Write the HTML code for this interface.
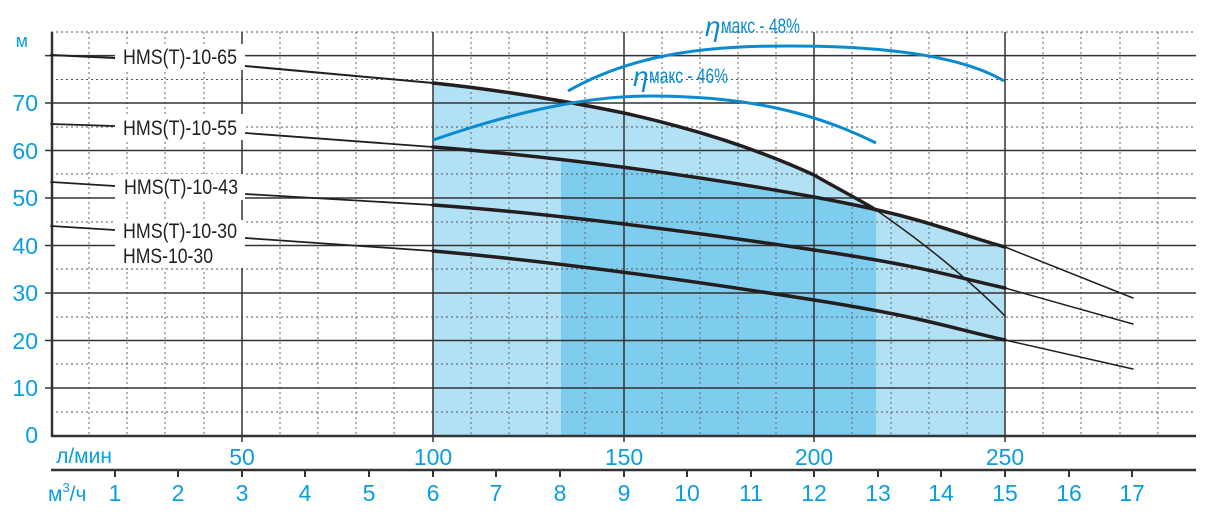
<!DOCTYPE html>
<html><head><meta charset="utf-8"><style>
html,body{margin:0;padding:0;background:#fff}
svg{display:block}
text{font-family:"Liberation Sans",sans-serif}
</style></head><body>
<svg width="1224" height="516" viewBox="0 0 1224 516" xmlns="http://www.w3.org/2000/svg">
<path d="M433,83 C500,90 561,100 624,113 C700,130 760,150 814,175 C840,190 860,200 876,210 L1005,247 L1005,436 L433,436 Z" fill="#b2e1f5"/>
<path d="M561,158 C600,162 700,176 814,197 L876,210 L876,436 L561,436 Z" fill="#7fcdee"/>
<g stroke="#555" stroke-width="1" stroke-dasharray="2,3">
<line x1="51" y1="32" x2="1196" y2="32"/>
<line x1="51" y1="79.5" x2="1196" y2="79.5"/>
<line x1="51" y1="127" x2="1196" y2="127"/>
<line x1="51" y1="174" x2="1196" y2="174"/>
<line x1="51" y1="222" x2="1196" y2="222"/>
<line x1="51" y1="269" x2="1196" y2="269"/>
<line x1="51" y1="317" x2="1196" y2="317"/>
<line x1="51" y1="364" x2="1196" y2="364"/>
<line x1="51" y1="412" x2="1196" y2="412"/>
</g>
<g stroke="#666" stroke-width="1" stroke-dasharray="2,3">
<line x1="89" y1="32" x2="89" y2="436"/><line x1="127" y1="32" x2="127" y2="436"/><line x1="165" y1="32" x2="165" y2="436"/><line x1="204" y1="32" x2="204" y2="436"/>
<line x1="280" y1="32" x2="280" y2="436"/><line x1="318" y1="32" x2="318" y2="436"/><line x1="356" y1="32" x2="356" y2="436"/><line x1="394" y1="32" x2="394" y2="436"/>
<line x1="471" y1="32" x2="471" y2="436"/><line x1="509" y1="32" x2="509" y2="436"/><line x1="547" y1="32" x2="547" y2="436"/><line x1="585" y1="32" x2="585" y2="436"/>
<line x1="662" y1="32" x2="662" y2="436"/><line x1="700" y1="32" x2="700" y2="436"/><line x1="738" y1="32" x2="738" y2="436"/><line x1="776" y1="32" x2="776" y2="436"/>
<line x1="852" y1="32" x2="852" y2="436"/><line x1="891" y1="32" x2="891" y2="436"/><line x1="929" y1="32" x2="929" y2="436"/><line x1="967" y1="32" x2="967" y2="436"/>
<line x1="1043" y1="32" x2="1043" y2="436"/><line x1="1081" y1="32" x2="1081" y2="436"/><line x1="1120" y1="32" x2="1120" y2="436"/><line x1="1158" y1="32" x2="1158" y2="436"/>
</g>
<g stroke="#333" stroke-width="1.5">
<line x1="45" y1="55.6" x2="1196" y2="55.6"/>
<line x1="45" y1="103" x2="1196" y2="103"/>
<line x1="45" y1="150.5" x2="1196" y2="150.5"/>
<line x1="45" y1="198" x2="1196" y2="198"/>
<line x1="45" y1="245.5" x2="1196" y2="245.5"/>
<line x1="45" y1="293" x2="1196" y2="293"/>
<line x1="45" y1="340.5" x2="1196" y2="340.5"/>
<line x1="45" y1="388" x2="1196" y2="388"/>
<line x1="242" y1="32" x2="242" y2="442"/>
<line x1="433" y1="32" x2="433" y2="442"/>
<line x1="624" y1="32" x2="624" y2="442"/>
<line x1="814" y1="32" x2="814" y2="442"/>
<line x1="1005" y1="32" x2="1005" y2="442"/>
</g>
<line x1="52" y1="32" x2="52" y2="437" stroke="#333" stroke-width="2.5"/>
<line x1="51" y1="436" x2="1196" y2="436" stroke="#333" stroke-width="2.5"/>
<line x1="51" y1="470" x2="1196" y2="470" stroke="#333" stroke-width="2.5"/>
<g stroke="#333" stroke-width="2">
<line x1="115" y1="470" x2="115" y2="477"/><line x1="178" y1="470" x2="178" y2="477"/><line x1="242" y1="470" x2="242" y2="477"/><line x1="305" y1="470" x2="305" y2="477"/><line x1="369" y1="470" x2="369" y2="477"/><line x1="433" y1="470" x2="433" y2="477"/><line x1="496" y1="470" x2="496" y2="477"/><line x1="560" y1="470" x2="560" y2="477"/><line x1="624" y1="470" x2="624" y2="477"/><line x1="687" y1="470" x2="687" y2="477"/><line x1="751" y1="470" x2="751" y2="477"/><line x1="814" y1="470" x2="814" y2="477"/><line x1="878" y1="470" x2="878" y2="477"/><line x1="941" y1="470" x2="941" y2="477"/><line x1="1005" y1="470" x2="1005" y2="477"/><line x1="1069" y1="470" x2="1069" y2="477"/><line x1="1132" y1="470" x2="1132" y2="477"/>
</g>
<g fill="none" stroke="#231f20" stroke-linecap="round">
<path d="M51,55 L115,58 M245,66 L433,83" stroke-width="2"/>
<path d="M433,83 C500,90 561,100 624,113 C700,130 760,150 814,175 C840,190 860,200 876,210" stroke-width="3.5"/>
<path d="M876,210 C920,240 970,280 1005,316" stroke-width="1.5"/>
<path d="M51,124 L115,126 M245,133 L433,147" stroke-width="1.8"/>
<path d="M433,147 C560,157 700,176 814,197 S950,232 1005,247" stroke-width="3.5"/>
<path d="M1005,247 L1133,298" stroke-width="1.5"/>
<path d="M51,182 L115,186 M245,194 L433,205" stroke-width="1.8"/>
<path d="M433,205 C560,214 700,233 814,250 S950,276 1005,288" stroke-width="3.5"/>
<path d="M1005,288 L1133,324" stroke-width="1.5"/>
<path d="M51,226 L115,230 M245,238 L433,251" stroke-width="1.8"/>
<path d="M433,251 C560,262 700,282 814,300 S950,328 1005,340" stroke-width="3.5"/>
<path d="M1005,340 L1133,369" stroke-width="1.5"/>
</g>
<g fill="none" stroke="#0a8bd0" stroke-width="3">
<path d="M568,91 C640,50 720,46 790,46 C880,46 960,55 1004,81"/>
<path d="M433,140 C520,110 590,96 650,96 C740,96 810,110 876,143"/>
</g>
<g fill="#0a8bd0">
<text x="705" y="36" font-size="28" font-style="italic">η</text>
<text x="721" y="33" font-size="21" textLength="79" lengthAdjust="spacingAndGlyphs">макс - 48%</text>
<text x="633" y="86" font-size="28" font-style="italic">η</text>
<text x="649" y="83" font-size="21" textLength="79" lengthAdjust="spacingAndGlyphs">макс - 46%</text>
</g>
<g fill="#fff"><rect x="115" y="44" width="130" height="26"/><rect x="115" y="114" width="130" height="26"/><rect x="115" y="174" width="130" height="26"/><rect x="115" y="220" width="130" height="48"/></g>
<g fill="#231f20" font-size="21">
<text x="123" y="64" textLength="114" lengthAdjust="spacingAndGlyphs">HMS(T)-10-65</text>
<text x="123" y="135" textLength="114" lengthAdjust="spacingAndGlyphs">HMS(T)-10-55</text>
<text x="124" y="194" textLength="114" lengthAdjust="spacingAndGlyphs">HMS(T)-10-43</text>
<text x="123" y="238" textLength="114" lengthAdjust="spacingAndGlyphs">HMS(T)-10-30</text>
<text x="123" y="263" textLength="90" lengthAdjust="spacingAndGlyphs">HMS-10-30</text>
</g>
<g fill="#0a9ee0" font-size="23" text-anchor="end">
<text x="28" y="47" font-size="18">м</text>
<text x="38" y="111">70</text><text x="38" y="159">60</text><text x="38" y="206">50</text><text x="38" y="254">40</text><text x="38" y="301">30</text><text x="38" y="349">20</text><text x="38" y="396">10</text><text x="38" y="443">0</text>
</g>
<g fill="#0a9ee0" font-size="23" text-anchor="middle">
<text x="84" y="463" font-size="21">л/мин</text>
<text x="242" y="465">50</text><text x="433" y="465">100</text><text x="624" y="465">150</text><text x="814" y="465">200</text><text x="1005" y="465">250</text>
<text x="115" y="501">1</text><text x="178" y="501">2</text><text x="242" y="501">3</text><text x="305" y="501">4</text><text x="369" y="501">5</text><text x="433" y="501">6</text><text x="496" y="501">7</text><text x="560" y="501">8</text><text x="624" y="501">9</text><text x="687" y="501">10</text><text x="751" y="501">11</text><text x="814" y="501">12</text><text x="878" y="501">13</text><text x="941" y="501">14</text><text x="1005" y="501">15</text><text x="1069" y="501">16</text><text x="1132" y="501">17</text>
</g>
<text x="48" y="501" fill="#0a9ee0" font-size="21">м<tspan font-size="13" dy="-9">3</tspan><tspan dy="9">/ч</tspan></text>
</svg>
</body></html>
